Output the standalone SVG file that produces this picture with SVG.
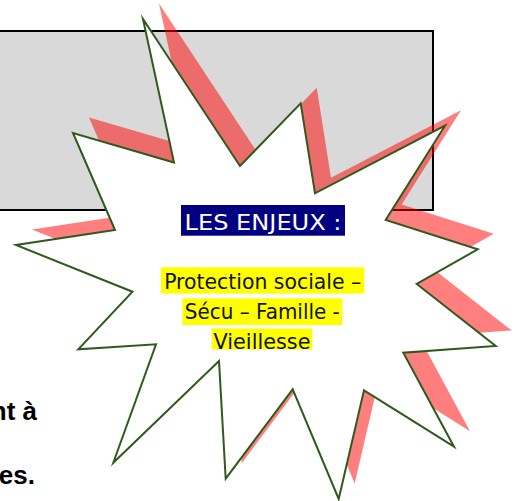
<svg xmlns="http://www.w3.org/2000/svg" xmlns:xlink="http://www.w3.org/1999/xlink" width="517" height="501" viewBox="0 0 517 501">
  <style>
    .panel { fill: #d9d9d9; stroke: #000; stroke-width: 2; }
    .burst { fill: #fff; stroke: #2f5a1e; stroke-width: 2; stroke-linejoin: miter; stroke-miterlimit: 20; }
    .burst-shadow { fill: #ff0000; fill-opacity: 0.5; stroke: none; }
    .body { font-family: "Liberation Sans", Arial, sans-serif; font-weight: bold; font-size: 26px; fill: #000; text-anchor: end; }
    .label { font-family: "DejaVu Sans", Verdana, sans-serif; font-size: 20.5px; text-anchor: middle; }
    .title-bg { fill: #000080; }
    .title { fill: #fff; }
    .hl-bg { fill: #ffff00; }
    .hl { fill: #111; }
  </style>
  <defs>
    <polygon id="burst-shape" points="143,19 174,162.5 73,133 115,230 16,245 132.5,291.7 78.3,349.3 156,344.3 113.3,462.7 219,361 225.7,478.7 292.7,389.3 338.7,499 364,390.3 454,446.7 403.3,352.7 495.7,346 416.7,284 477.7,249.3 385.7,220 445,125.7 315,193.3 300.7,103.3 240,166"/>
  </defs>

  <!-- grey panel behind the burst -->
  <g id="panel">
    <rect class="panel" x="-10" y="31" width="443" height="179"/>
  </g>

  <!-- body text running off the left edge -->
  <g id="body-text">
    <text class="body" x="37" y="419.5">nt à</text>
    <text class="body" x="35" y="484">es.</text>
  </g>

  <!-- explosion shape with its offset red shadow -->
  <g id="burst">
    <use xlink:href="#burst-shape" class="burst-shadow" transform="translate(16,-15.5)"/>
    <use xlink:href="#burst-shape" class="burst"/>
  </g>

  <!-- labels inside the burst -->
  <g id="title">
    <rect class="title-bg" x="181" y="205" width="164" height="30.7"/>
    <text class="label title" x="263" y="229.5" textLength="157" lengthAdjust="spacingAndGlyphs">LES ENJEUX :</text>
  </g>
  <g id="topics">
    <rect class="hl-bg" x="161" y="267.3" width="203.3" height="26.3"/>
    <rect class="hl-bg" x="182.3" y="298.3" width="160" height="26.7"/>
    <rect class="hl-bg" x="211.7" y="328.5" width="100.6" height="21"/>
    <text class="label hl" x="262.7" y="288.7" textLength="197" lengthAdjust="spacingAndGlyphs">Protection sociale –</text>
    <text class="label hl" x="262.3" y="318.7" textLength="155" lengthAdjust="spacingAndGlyphs">Sécu – Famille -</text>
    <text class="label hl" x="262" y="349" textLength="97" lengthAdjust="spacingAndGlyphs">Vieillesse</text>
  </g>
</svg>
